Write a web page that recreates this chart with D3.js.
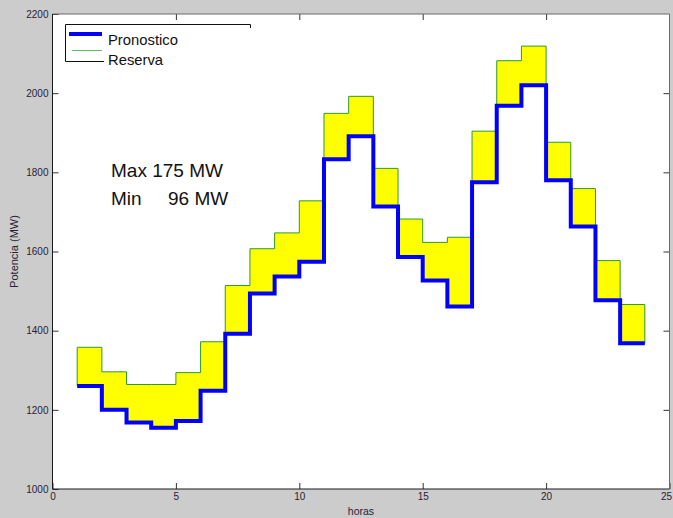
<!DOCTYPE html>
<html>
<head>
<meta charset="utf-8">
<script src="https://cdn.jsdelivr.net/npm/d3@7"></script>
<style>
  html, body { margin: 0; padding: 0; background: #cccccc; }
  svg { display: block; font-family: "Liberation Sans", Arial, sans-serif; }
</style>
</head>
<body>
<div id="chart"></div>
<script>
// hourly forecast (blue stairs) and reserve (top of yellow band), MW
const horas = [1, 2, 3, 4, 5, 6, 7, 8, 9, 10, 11, 12, 13, 14, 15, 16, 17, 18, 19, 20, 21, 22, 23];
const pronostico = [1260, 1200, 1168, 1155, 1172, 1248, 1392, 1494, 1537, 1574, 1833, 1891,
                    1714, 1586, 1527, 1461, 1775, 1968, 2020, 1780, 1663, 1477, 1368];
const reserva = [1358, 1296, 1264, 1264, 1294, 1372, 1514, 1607, 1647, 1728, 1949, 1992,
                 1810, 1682, 1623, 1636, 1904, 2082, 2119, 1876, 1759, 1577, 1466];
const xTicks = [0, 5, 10, 15, 20, 25];
const yTicks = [1000, 1200, 1400, 1600, 1800, 2000, 2200];
const notas = ["Max 175 MW", "Min     96 MW"];

const width = 673, height = 518;
const margin = { top: 14, right: 3.5, bottom: 29, left: 52.5 };

const svg = d3.select("#chart").append("svg")
  .attr("width", width)
  .attr("height", height);

svg.append("rect")
  .attr("width", width).attr("height", height)
  .attr("fill", "#cccccc");

const x = d3.scaleLinear().domain([0, 25]).range([margin.left, width - margin.right]);
const y = d3.scaleLinear().domain([1000, 2200]).range([height - margin.bottom, margin.top]);

// plot area
svg.append("rect")
  .attr("x", x(0)).attr("y", y(2200))
  .attr("width", x(25) - x(0)).attr("height", y(1000) - y(2200))
  .attr("fill", "#ffffff");

// step series: last hour closes at 24
const steps = horas.map((h, i) => ({ x: h, p: pronostico[i], r: reserva[i] }));
steps.push({ x: horas[horas.length - 1] + 1, p: pronostico[pronostico.length - 1], r: reserva[reserva.length - 1] });

const band = d3.area()
  .x(d => x(d.x))
  .y0(d => y(d.p))
  .y1(d => y(d.r))
  .curve(d3.curveStepAfter);

svg.append("path")
  .attr("d", band(steps))
  .attr("fill", "#ffff00")
  .attr("stroke", "#2f9a2a")
  .attr("stroke-width", 1);

const stair = d3.line()
  .x(d => x(d.x))
  .y(d => y(d.p))
  .curve(d3.curveStepAfter);

svg.append("path")
  .attr("d", stair(steps))
  .attr("fill", "none")
  .attr("stroke", "#0000ff")
  .attr("stroke-width", 4)
  .attr("stroke-linejoin", "miter");

// axes (ticks pointing inward, MATLAB style)
const tickStyle = g => {
  g.select(".domain").remove();
  g.selectAll("line").attr("stroke", "#333");
  g.selectAll("text")
    .attr("fill", "#2a2233")
    .attr("font-size", 10)
    .attr("font-family", "\"Liberation Sans\", Arial, sans-serif");
};

svg.append("g")
  .attr("transform", `translate(0,${y(1000)})`)
  .call(d3.axisBottom(x).tickValues(xTicks).tickFormat(d3.format("d"))
    .tickSizeInner(-6).tickSizeOuter(0).tickPadding(4))
  .call(tickStyle)
  .call(g => g.selectAll("text").filter(d => d === 25).attr("text-anchor", "end").attr("dx", 2));

svg.append("g")
  .attr("transform", `translate(${x(0)},0)`)
  .call(d3.axisLeft(y).tickValues(yTicks).tickFormat(d3.format("d"))
    .tickSizeInner(-6).tickSizeOuter(0).tickPadding(4))
  .call(tickStyle);

svg.append("g")
  .attr("transform", `translate(0,${y(2200)})`)
  .call(d3.axisTop(x).tickValues(xTicks.slice(1, -1)).tickSizeInner(-6).tickSizeOuter(0).tickFormat(""))
  .call(tickStyle);

svg.append("g")
  .attr("transform", `translate(${x(25)},0)`)
  .call(d3.axisRight(y).tickValues(yTicks.slice(1, -1)).tickSizeInner(-6).tickSizeOuter(0).tickFormat(""))
  .call(tickStyle);

// axes frame
svg.append("path")
  .attr("d", `M${x(0)},${y(2200)}H${x(25)}V${y(1000)}`)
  .attr("fill", "none").attr("stroke", "#6a6a6a");
svg.append("path")
  .attr("d", `M${x(0)},${y(2200)}V${y(1000)}H${x(25)}`)
  .attr("fill", "none").attr("stroke", "#1a1a1a");

// axis titles
svg.append("text")
  .attr("x", (x(0) + x(25)) / 2)
  .attr("y", 515)
  .attr("text-anchor", "middle")
  .attr("font-size", 10.5)
  .attr("fill", "#2a2233")
  .text("horas");

svg.append("text")
  .attr("transform", `translate(18,${(y(1000) + y(2200)) / 2}) rotate(-90)`)
  .attr("text-anchor", "middle")
  .attr("font-size", 11)
  .attr("fill", "#2a2233")
  .text("Potencia (MW)");

// annotation
svg.selectAll("text.nota")
  .data(notas)
  .join("text")
  .attr("class", "nota")
  .attr("x", 111)
  .attr("y", (d, i) => 177 + i * 27.5)
  .attr("font-size", 19)
  .attr("fill", "#111")
  .style("white-space", "pre")
  .text(d => d);

// legend (MATLAB box partly hidden behind label backgrounds)
const lg = svg.append("g");
lg.append("path")
  .attr("d", "M250.5,28V24.5H65.5V61.5H104")
  .attr("fill", "none").attr("stroke", "#111").attr("stroke-width", 1);
lg.append("line")
  .attr("x1", 69).attr("x2", 102).attr("y1", 34).attr("y2", 34)
  .attr("stroke", "#0000ff").attr("stroke-width", 4);
lg.append("line")
  .attr("x1", 72).attr("x2", 102).attr("y1", 50.5).attr("y2", 50.5)
  .attr("stroke", "#5cbf5c").attr("stroke-width", 1);
lg.append("text")
  .attr("x", 108).attr("y", 45)
  .attr("font-size", 14.8).attr("fill", "#111")
  .text("Pronostico");
lg.append("text")
  .attr("x", 108).attr("y", 64.5)
  .attr("font-size", 14.8).attr("fill", "#111")
  .text("Reserva");
</script>
</body>
</html>
